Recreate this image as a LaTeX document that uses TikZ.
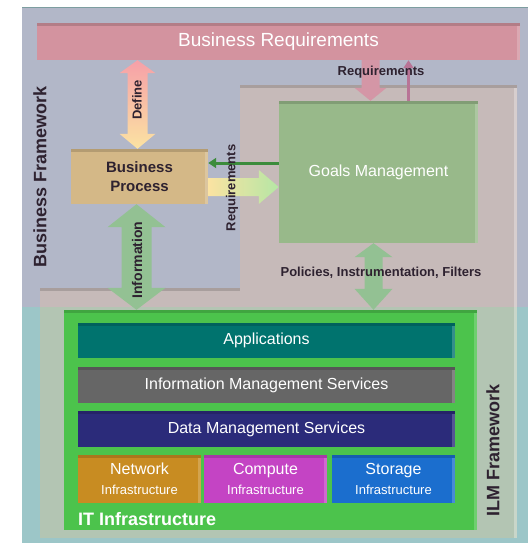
\documentclass[tikz,border=0pt]{standalone}
\usepackage{fontspec}
\setmainfont{Liberation Sans}
\usetikzlibrary{arrows.meta,calc}

\definecolor{bfblue}{HTML}{B2B7C8}
\definecolor{bfteal}{HTML}{9CC6C8}
\definecolor{ilmpink}{HTML}{C6BAB9}
\definecolor{ilmgreen}{HTML}{B3C5B3}
\definecolor{reqpink}{HTML}{D3939F}
\definecolor{proctan}{HTML}{D4B887}
\definecolor{goalgreen}{HTML}{98B98A}
\definecolor{itgreen}{HTML}{4CC34C}
\definecolor{appteal}{HTML}{00736E}
\definecolor{imsgrey}{HTML}{666666}
\definecolor{dmsblue}{HTML}{2B2B7A}
\definecolor{netorange}{HTML}{C88C22}
\definecolor{compmagenta}{HTML}{C444C4}
\definecolor{storblue}{HTML}{1B6ECE}
\definecolor{labeldark}{HTML}{2E2230}
\definecolor{arrowgreen}{HTML}{93C193}
\definecolor{thingreen}{HTML}{3C8C3C}
\definecolor{thinpink}{HTML}{B87496}
\definecolor{reqarrow}{HTML}{D496A6}
\definecolor{lightyellow}{HTML}{FBE3A2}
\definecolor{lightpink}{HTML}{F6A0A8}
\definecolor{lightgreen}{HTML}{B5E6A5}

\begin{document}
\begin{tikzpicture}[x=1pt, y=-1pt,
    box/.style={align=center, inner sep=0pt, text=white,
        font=\fontsize{16}{20}\selectfont,
        path picture={
            \fill[black, opacity=.15] (path picture bounding box.north west) rectangle ([yshift=-3pt]path picture bounding box.north east);
            \fill[white, opacity=.2] ([yshift=-3pt]path picture bounding box.north east) rectangle ([xshift=-3pt]path picture bounding box.south east);
        }},
    txt/.style={text=labeldark, inner sep=0pt, font=\bfseries\fontsize{13}{15}\selectfont},
    slimarrow/.style={line width=3pt, -{Triangle[width=10pt,length=8pt]}}
]
    \useasboundingbox (0,0) rectangle (528,543);

    % framework panels
    \fill[bfblue] (22,7) rectangle (528,307);
    \fill[bfteal] (22,307) rectangle (528,543);
    \draw[bfteal!80!black, line width=1.5pt] (22,7.5) -- (528,7.5);
    \fill[ilmpink] (240,85) -- (517,85) -- (517,307) -- (40,307) -- (40,288) -- (240,288) -- cycle;
    \fill[ilmgreen] (40,307) rectangle (517,538);
    \fill[ilmpink!85!black] (240,85) rectangle (517,88);
    \fill[ilmpink!85!black] (40,288) rectangle (240,291);
    \fill[white, opacity=.3] (514,88) rectangle (517,538);

    % boxes
    \node[box, fill=reqpink, minimum width=483pt, minimum height=37pt, font=\fontsize{19}{21}\selectfont] (busreq) at (278.5,41.5) {Business Requirements};
    \node[box, fill=proctan, text=labeldark, minimum width=137pt, minimum height=55pt, font=\bfseries\fontsize{15}{19}\selectfont] (busproc) at (139.5,176.5) {Business\\Process};
    \node[box, fill=goalgreen, minimum width=199pt, minimum height=142pt] (goals) at (378.5,172) {Goals Management};

    \node[box, fill=itgreen, minimum width=413pt, minimum height=220pt] (itinfra) at (270.5,420) {};
    \node[box, fill=appteal, minimum width=377pt, minimum height=35pt] (apps) at (266.5,340.5) {Applications};
    \node[box, fill=imsgrey, minimum width=377pt, minimum height=36pt] (ims) at (266.5,385) {Information Management Services};
    \node[box, fill=dmsblue, minimum width=377pt, minimum height=36pt] (dms) at (266.5,429) {Data Management Services};
    \node[box, fill=netorange, minimum width=123pt, minimum height=48pt] (net) at (139.5,479) {Network\\{\fontsize{13}{20}\selectfont Infrastructure}};
    \node[box, fill=compmagenta, minimum width=123pt, minimum height=48pt] (comp) at (265.5,479) {Compute\\{\fontsize{13}{20}\selectfont Infrastructure}};
    \node[box, fill=storblue, minimum width=123pt, minimum height=48pt] (stor) at (393.5,479) {Storage\\{\fontsize{13}{20}\selectfont Infrastructure}};

    % arrows
    \path (busproc.north) ++(-2,0) coordinate (defbot);
    \path (defbot |- busreq.south) coordinate (deftop);
    \shade[top color=lightpink, bottom color=lightyellow] (deftop) -- ++(18,13) -- ++(-8,0) -- ($(defbot)+(10,-15)$) -- ++(8,0) -- (defbot) -- ++(-18,-15) -- ++(8,0) -- ($(deftop)+(-10,13)$) -- ++(-8,0) -- cycle;

    \path (goals.north) ++(-8,0) coordinate (reqdown);
    \path (reqdown |- busreq.south) coordinate (reqtop);
    \fill[reqarrow] ($(reqtop)+(-9,0)$) -- ($(reqdown)+(-9,-13)$) -- ++(-7,0) -- (reqdown) -- ++(16,-13) -- ++(-7,0) -- ($(reqtop)+(9,0)$) -- cycle;

    \path (goals.north) ++(30,0) coordinate (requp);
    \draw[slimarrow, thinpink] (requp) -- (requp |- busreq.south);

    \path (goals.west) ++(0,-9) coordinate (fbk);
    \draw[slimarrow, thingreen] (fbk) -- (fbk -| busproc.east);

    \path (goals.west) ++(0,15) coordinate (procin);
    \path (procin -| busproc.east) coordinate (procout);
    \shade[left color=lightyellow, right color=lightgreen] ($(procout)+(0,-9)$) -- ($(procin)+(-20,-9)$) -- ++(0,-8) -- (procin) -- ++(-20,17) -- ++(0,-8) -- ($(procout)+(0,9)$) -- cycle;

    \path (busproc.south) ++(-3,0) coordinate (infotop);
    \path (infotop |- itinfra.north) coordinate (infobot);
    \fill[arrowgreen] (infotop) -- ++(29,23) -- ++(-14,0) -- ($(infobot)+(15,-22)$) -- ++(14,0) -- (infobot) -- ++(-29,-22) -- ++(14,0) -- ($(infotop)+(-15,23)$) -- ++(-14,0) -- cycle;

    \path (goals.south) ++(-5,0) coordinate (poltop);
    \path (poltop |- itinfra.north) coordinate (polbot);
    \fill[arrowgreen] (poltop) -- ++(19,14) -- ++(-10,0) -- ($(polbot)+(9,-21)$) -- ++(10,0) -- (polbot) -- ++(-19,-21) -- ++(10,0) -- ($(poltop)+(-9,14)$) -- ++(-10,0) -- cycle;

    % labels
    \node[txt, rotate=90, font=\bfseries\fontsize{18}{20}\selectfont] (bflabel) at (40,177) {Business Framework};
    \node[txt, rotate=90, font=\bfseries\fontsize{18}{20}\selectfont] (ilmlabel) at (493,450) {ILM Framework};
    \node[txt, rotate=90] (deflabel) at (137,100) {Define};
    \node[txt, rotate=90, font=\bfseries\fontsize{14}{16}\selectfont] (infolabel) at (137,260) {Information};
    \node[txt] (reqlabel) at (381,72) {Requirements};
    \node[txt, rotate=90] (reqside) at (232,188) {Requirements};
    \node[txt] (pollabel) at (381,273) {Policies, Instrumentation, Filters};
    \node[txt, text=white, anchor=west, font=\bfseries\fontsize{18}{20}\selectfont] (itlabel) at (78,519) {IT Infrastructure};
\end{tikzpicture}
\end{document}
